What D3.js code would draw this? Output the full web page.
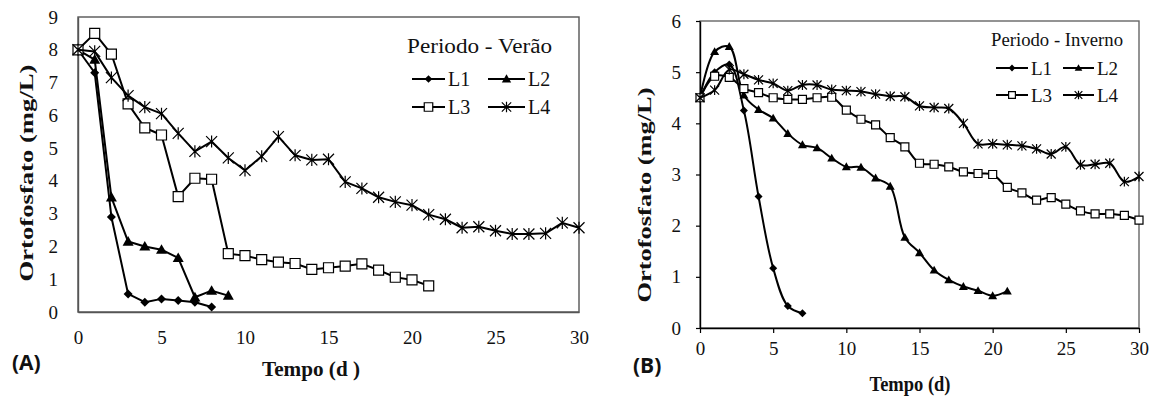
<!DOCTYPE html>
<html>
<head>
<meta charset="utf-8">
<script src="https://cdn.jsdelivr.net/npm/d3@7"></script>
<style>
  html, body { margin: 0; padding: 0; background: #fff; }
  svg { display: block; }
</style>
</head>
<body>
<svg id="fig" width="1152" height="396" font-family="Liberation Serif, Times New Roman, serif"></svg>
<script>
// tick labels
const tempoTicks = [0, 5, 10, 15, 20, 25, 30];
const veraoTicksY = [0, 1, 2, 3, 4, 5, 6, 7, 8, 9];
const invernoTicksY = [0, 1, 2, 3, 4, 5, 6];
const seriesNames = ["L1", "L2", "L3", "L4"];

// Periodo - Verao (one value per day, starting at day 0)
const veraoL1 = [8.0, 7.3, 2.9, 0.55, 0.3, 0.4, 0.35, 0.3, 0.15];
const veraoL2 = [8.0, 7.7, 3.5, 2.15, 2.0, 1.9, 1.65, 0.45, 0.65, 0.5];
const veraoL3 = [8.0, 8.5, 7.87, 6.35, 5.62, 5.4, 3.52, 4.08, 4.05, 1.78, 1.72, 1.6, 1.52, 1.48, 1.3, 1.35, 1.4, 1.47, 1.28, 1.06, 0.98, 0.8];
const veraoL4 = [8.0, 7.95, 7.15, 6.6, 6.25, 6.05, 5.45, 4.9, 5.2, 4.7, 4.32, 4.75, 5.35, 4.78, 4.64, 4.66, 3.97, 3.77, 3.5, 3.36, 3.26, 2.97, 2.83, 2.57, 2.6, 2.48, 2.38, 2.38, 2.4, 2.72, 2.57];

// Periodo - Inverno
const invernoL1 = [4.5, 5.0, 5.15, 4.25, 2.57, 1.17, 0.43, 0.29];
const invernoL2 = [4.5, 5.4, 5.5, 4.55, 4.27, 4.1, 3.8, 3.58, 3.52, 3.32, 3.15, 3.14, 2.93, 2.77, 1.77, 1.47, 1.13, 0.94, 0.81, 0.73, 0.63, 0.72];
const invernoL3 = [4.5, 4.92, 4.9, 4.68, 4.6, 4.5, 4.47, 4.47, 4.5, 4.51, 4.26, 4.08, 3.97, 3.72, 3.54, 3.22, 3.2, 3.15, 3.05, 3.02, 3.0, 2.75, 2.64, 2.5, 2.55, 2.42, 2.29, 2.23, 2.23, 2.2, 2.11];
const invernoL4 = [4.5, 4.65, 5.05, 4.96, 4.85, 4.78, 4.64, 4.75, 4.75, 4.66, 4.64, 4.62, 4.57, 4.53, 4.52, 4.34, 4.31, 4.29, 4.0, 3.6, 3.6, 3.58, 3.56, 3.5, 3.4, 3.54, 3.19, 3.2, 3.22, 2.86, 2.96];

const markerTypes = ["diamond", "triangle", "square", "star"];
const serif = "Liberation Serif, Times New Roman, serif";

function markerPath(type, s) {
    const h = s / 2;
    if (type === "diamond") return `M0,${-h}L${h},0L0,${h}L${-h},0Z`;
    if (type === "triangle") return `M0,${-h}L${h},${h * 0.75}L${-h},${h * 0.75}Z`;
    if (type === "square") return `M${-h},${-h}H${h}V${h}H${-h}Z`;
    return `M${-h},${-h}L${h},${h}M${-h},${h}L${h},${-h}M0,${-h * 1.1}V${h * 1.1}`;
}

function drawMarker(g, type, s) {
    const p = g.append("path").attr("d", markerPath(type, s));
    if (type === "square") p.attr("fill", "#fff").attr("stroke", "#000").attr("stroke-width", 1.2);
    else if (type === "star") p.attr("fill", "none").attr("stroke", "#000").attr("stroke-width", 1.2);
    else p.attr("fill", "#000");
    return p;
}

const svg = d3.select("#fig");

function drawChart(cfg) {
    const x = d3.scaleLinear().domain([0, 30]).range([cfg.x0, cfg.x1]);
    const y = d3.scaleLinear().domain([0, cfg.yMax]).range([cfg.y1, cfg.y0]);
    const g = svg.append("g");

    // frame
    g.append("rect")
        .attr("x", cfg.x0).attr("y", cfg.y0)
        .attr("width", cfg.x1 - cfg.x0).attr("height", cfg.y1 - cfg.y0)
        .attr("fill", "none").attr("stroke", cfg.frameColor).attr("stroke-width", 1.4);

    const xAxis = d3.axisBottom(x).tickValues(tempoTicks).tickFormat(d3.format("d"))
        .tickSize(cfg.tickX).tickSizeOuter(0).tickPadding(cfg.padX);
    const yAxis = d3.axisLeft(y).tickValues(cfg.yTicks).tickFormat(d3.format("d"))
        .tickSize(cfg.tickY).tickSizeOuter(0).tickPadding(cfg.padY);

    const xg = g.append("g").attr("transform", `translate(0,${cfg.y1})`).call(xAxis);
    const yg = g.append("g").attr("transform", `translate(${cfg.x0},0)`).call(yAxis);
    [xg, yg].forEach(a => {
        a.attr("font-family", serif).attr("font-size", cfg.tickFont);
        a.select(".domain").attr("stroke", cfg.axisColor).attr("stroke-width", 1.4);
        a.selectAll(".tick line").attr("stroke", "#000").attr("stroke-width", 1.2);
        a.selectAll(".tick text").attr("fill", "#111");
    });

    const line = d3.line()
        .x(d => x(d[0])).y(d => y(d[1]))
        .curve(cfg.smooth ? d3.curveCatmullRom.alpha(0.5) : d3.curveLinear);

    cfg.series.forEach((vals, si) => {
        const pts = vals.map((v, i) => [i, v]);
        g.append("path").datum(pts)
            .attr("d", line).attr("fill", "none")
            .attr("stroke", "#000").attr("stroke-width", 2)
            .attr("stroke-linejoin", "round");
        pts.forEach(p => {
            const mg = g.append("g").attr("transform", `translate(${x(p[0])},${y(p[1])})`);
            drawMarker(mg, markerTypes[si], cfg.markSize[si]);
        });
    });

    // legend
    const lg = cfg.legend;
    g.append("text")
        .attr("x", lg.titleX).attr("y", lg.titleY)
        .attr("font-size", lg.font).attr("fill", "#111")
        .attr("textLength", lg.titleW).attr("lengthAdjust", "spacingAndGlyphs")
        .text(lg.title);
    seriesNames.forEach((name, i) => {
        const col = i % 2, row = Math.floor(i / 2);
        const lx0 = lg.cols[col][0], lx1 = lg.cols[col][1];
        const ly = lg.rows[row];
        g.append("line").attr("x1", lx0).attr("x2", lx1).attr("y1", ly).attr("y2", ly)
            .attr("stroke", "#000").attr("stroke-width", 2);
        const mg = g.append("g").attr("transform", `translate(${(lx0 + lx1) / 2},${ly})`);
        drawMarker(mg, markerTypes[i], cfg.markSize[i] * 0.85);
        g.append("text").attr("x", lx1 + 3).attr("y", ly).attr("dy", "0.35em")
            .attr("font-size", lg.font).attr("fill", "#111").text(name);
    });

    // axis titles
    g.append("text")
        .attr("transform", `translate(${cfg.yTitleX},${cfg.yTitleY}) rotate(-90)`)
        .attr("text-anchor", "middle").attr("font-weight", "bold")
        .attr("font-size", 19).attr("fill", "#111")
        .attr("textLength", cfg.yTitleW).attr("lengthAdjust", "spacingAndGlyphs")
        .text("Ortofosfato  (mg/L)");
    g.append("text")
        .attr("x", cfg.xTitleX).attr("y", cfg.xTitleY)
        .attr("text-anchor", "middle").attr("font-weight", "bold")
        .attr("font-size", 20).attr("fill", "#111")
        .attr("textLength", cfg.xTitleW).attr("lengthAdjust", "spacingAndGlyphs")
        .text(cfg.xTitle);
    g.append("text")
        .attr("x", cfg.tagX).attr("y", cfg.tagY)
        .attr("font-family", "Open Sans, Liberation Sans, sans-serif")
        .attr("font-weight", "bold").attr("font-size", 21).attr("fill", "#111")
        .text(cfg.tag);
}

drawChart({
    x0: 78, x1: 579, y0: 17, y1: 312, yMax: 9, yTicks: veraoTicksY,
    tickX: 0, tickY: 0, padX: 19, padY: 20, tickFont: 19,
    frameColor: "#555", axisColor: "#555",
    smooth: false,
    series: [veraoL1, veraoL2, veraoL3, veraoL4],
    markSize: [9, 11, 10, 11],
    legend: {
        title: "Periodo  - Verão", titleX: 407, titleY: 53, titleW: 145, font: 20,
        cols: [[412, 445], [488, 525]], rows: [79, 107]
    },
    yTitleX: 33, yTitleY: 173, yTitleW: 217,
    xTitle: "Tempo (d )", xTitleX: 311, xTitleY: 376, xTitleW: 98,
    tag: "(A)", tagX: 12, tagY: 370
});

drawChart({
    x0: 700, x1: 1139, y0: 21, y1: 328, yMax: 6, yTicks: invernoTicksY,
    tickX: 5, tickY: 4, padX: 9, padY: 15, tickFont: 19,
    frameColor: "#666", axisColor: "#000",
    smooth: true,
    series: [invernoL1, invernoL2, invernoL3, invernoL4],
    markSize: [8, 9, 8, 9],
    legend: {
        title: "Periodo  - Inverno", titleX: 991, titleY: 46, titleW: 132, font: 19,
        cols: [[996, 1028], [1063, 1094]], rows: [68, 95]
    },
    yTitleX: 651, yTitleY: 195, yTitleW: 215,
    xTitle: "Tempo (d)", xTitleX: 910, xTitleY: 391, xTitleW: 81,
    tag: "(B)", tagX: 633, tagY: 373
});
</script>
</body>
</html>
